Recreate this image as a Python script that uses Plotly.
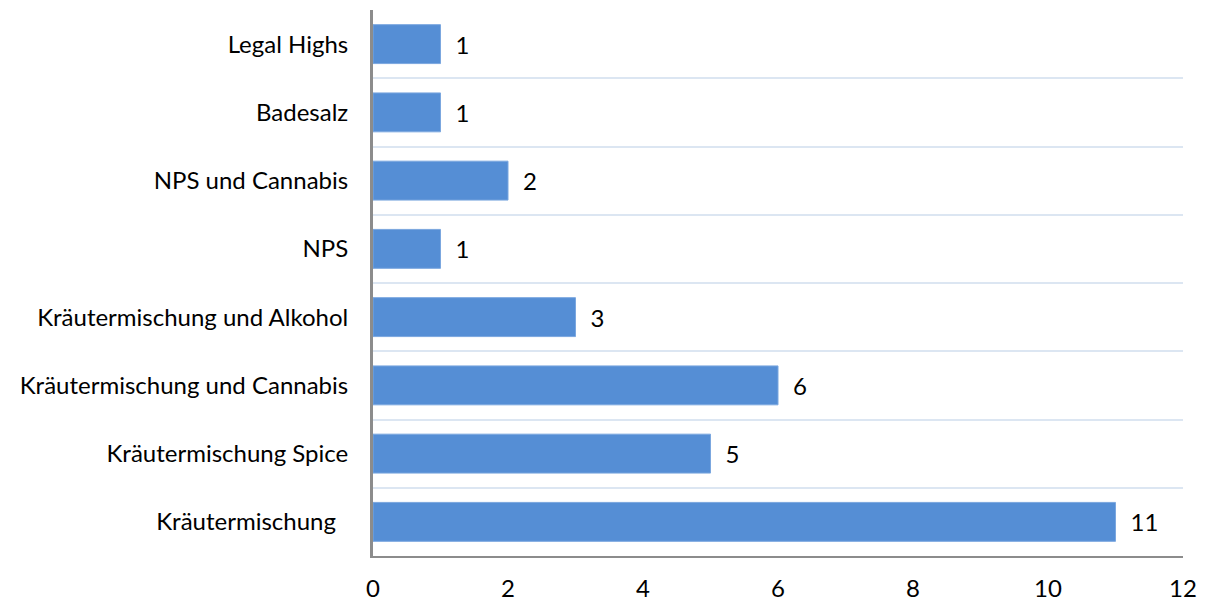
import plotly.graph_objects as go

categories = [
    "Kräutermischung\u00a0\u00a0",
    "Kräutermischung Spice",
    "Kräutermischung und Cannabis",
    "Kräutermischung und Alkohol",
    "NPS",
    "NPS und Cannabis",
    "Badesalz",
    "Legal Highs",
]
values = [11, 5, 6, 3, 1, 2, 1, 1]
x_ticks = [0, 2, 4, 6, 8, 10, 12]

FONT = "Lato"
FS = 24

fig = go.Figure(
    go.Bar(
        x=values,
        y=categories,
        orientation="h",
        marker=dict(color="#558ED5", line=dict(color="#7BA7DF", width=1)),
        width=0.57,
        text=[str(v) for v in values],
        texttemplate="\u2002%{text}",
        textposition="outside",
        textfont=dict(family=FONT, size=FS, color="#000000"),
        cliponaxis=False,
    )
)

fig.update_layout(
    width=1207,
    height=605,
    margin=dict(l=373, r=24, t=10, b=49),
    paper_bgcolor="white",
    plot_bgcolor="white",
    showlegend=False,
    uniformtext=dict(minsize=FS, mode="show"),
    font=dict(family=FONT, size=FS, color="#000000"),
    xaxis=dict(
        range=[0, 12],
        tickvals=x_ticks,
        showgrid=False,
        zeroline=False,
        showline=True,
        linecolor="#8C8C8C",
        linewidth=2,
        ticks="",
        ticklabelstandoff=10,
        automargin=False,
        tickfont=dict(family=FONT, size=FS),
    ),
    yaxis=dict(
        type="category",
        categoryorder="array",
        categoryarray=categories,
        tickson="boundaries",
        showgrid=True,
        gridcolor="#DCE6F2",
        gridwidth=2,
        showline=True,
        linecolor="#8C8C8C",
        linewidth=3,
        ticks="",
        ticklabelstandoff=17,
        automargin=False,
        tickfont=dict(family=FONT, size=FS),
    ),
)

fig.write_html("out.html")
